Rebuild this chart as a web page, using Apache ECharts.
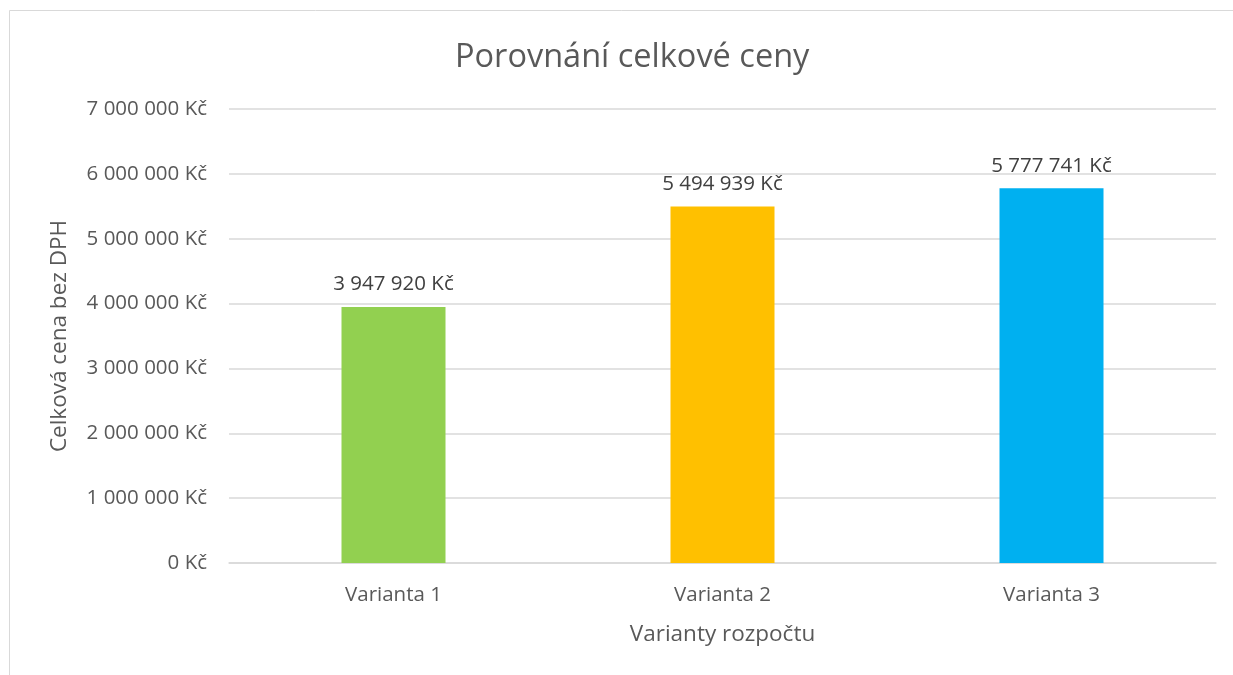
<!DOCTYPE html>
<html><head><meta charset="utf-8">
<script src="https://cdn.jsdelivr.net/npm/echarts@6/dist/echarts.min.js"></script>
<style>html,body{margin:0;padding:0;background:#fff}#c{width:1233px;height:675px}</style>
</head><body><div id="c"></div>
<script>
const categories = ['Varianta 1', 'Varianta 2', 'Varianta 3'];
const values = [3947920, 5494939, 5777741];
const colors = ['#92D050', '#FFC000', '#00B0F0'];
const titleText = 'Porovnání celkové ceny';
const yName = 'Celková cena bez DPH';
const xName = 'Varianty rozpočtu';

function fmt(v){ return String(Math.round(v)).replace(/\B(?=(\d{3})+(?!\d))/g, ' ') + ' Kč'; }
const FONT = '"Open Sans", "Liberation Sans", sans-serif';
const chart = echarts.init(document.getElementById('c'));
chart.setOption({
  animation: false,
  backgroundColor: '#fff',
  graphic: [{type:'rect', shape:{x:9.5,y:10.5,width:1300,height:700}, style:{fill:'none', stroke:'#d9d9d9', lineWidth:1}}],
  title: {text: titleText, left: 450, top: 36, textStyle:{fontFamily:FONT, fontSize:32.5, fontWeight:'normal', color:'#595959'}},
  grid: {left: 229, right: 17, top: 109, bottom: 112},
  xAxis: {type:'category', data: categories, name: xName, nameLocation:'middle', nameGap: 60,
    nameTextStyle:{fontFamily:FONT, fontSize:22.5, color:'#595959'},
    axisLine:{lineStyle:{color:'#d9d9d9', width:1.5}}, axisTick:{show:false},
    axisLabel:{fontFamily:FONT, fontSize:20.5, color:'#595959', margin:22}},
  yAxis: {type:'value', min:0, max:7000000, interval:1000000, name: yName, nameLocation:'middle', nameGap: 158,
    nameTextStyle:{fontFamily:FONT, fontSize:22.5, color:'#595959'},
    axisLine:{show:false}, axisTick:{show:false},
    splitLine:{lineStyle:{color:'#d9d9d9', width:1.5}},
    axisLabel:{fontFamily:FONT, fontSize:20.5, color:'#595959', margin:22, formatter: v => fmt(v)}},
  series: [{type:'bar', barWidth: 104,
    data: values.map((v,i)=>({value:v, itemStyle:{color:colors[i]}})),
    label:{show:true, position:'top', distance:12, fontFamily:FONT, fontSize:20.5, color:'#404040', formatter: p => fmt(p.value)}}]
});
</script></body></html>
